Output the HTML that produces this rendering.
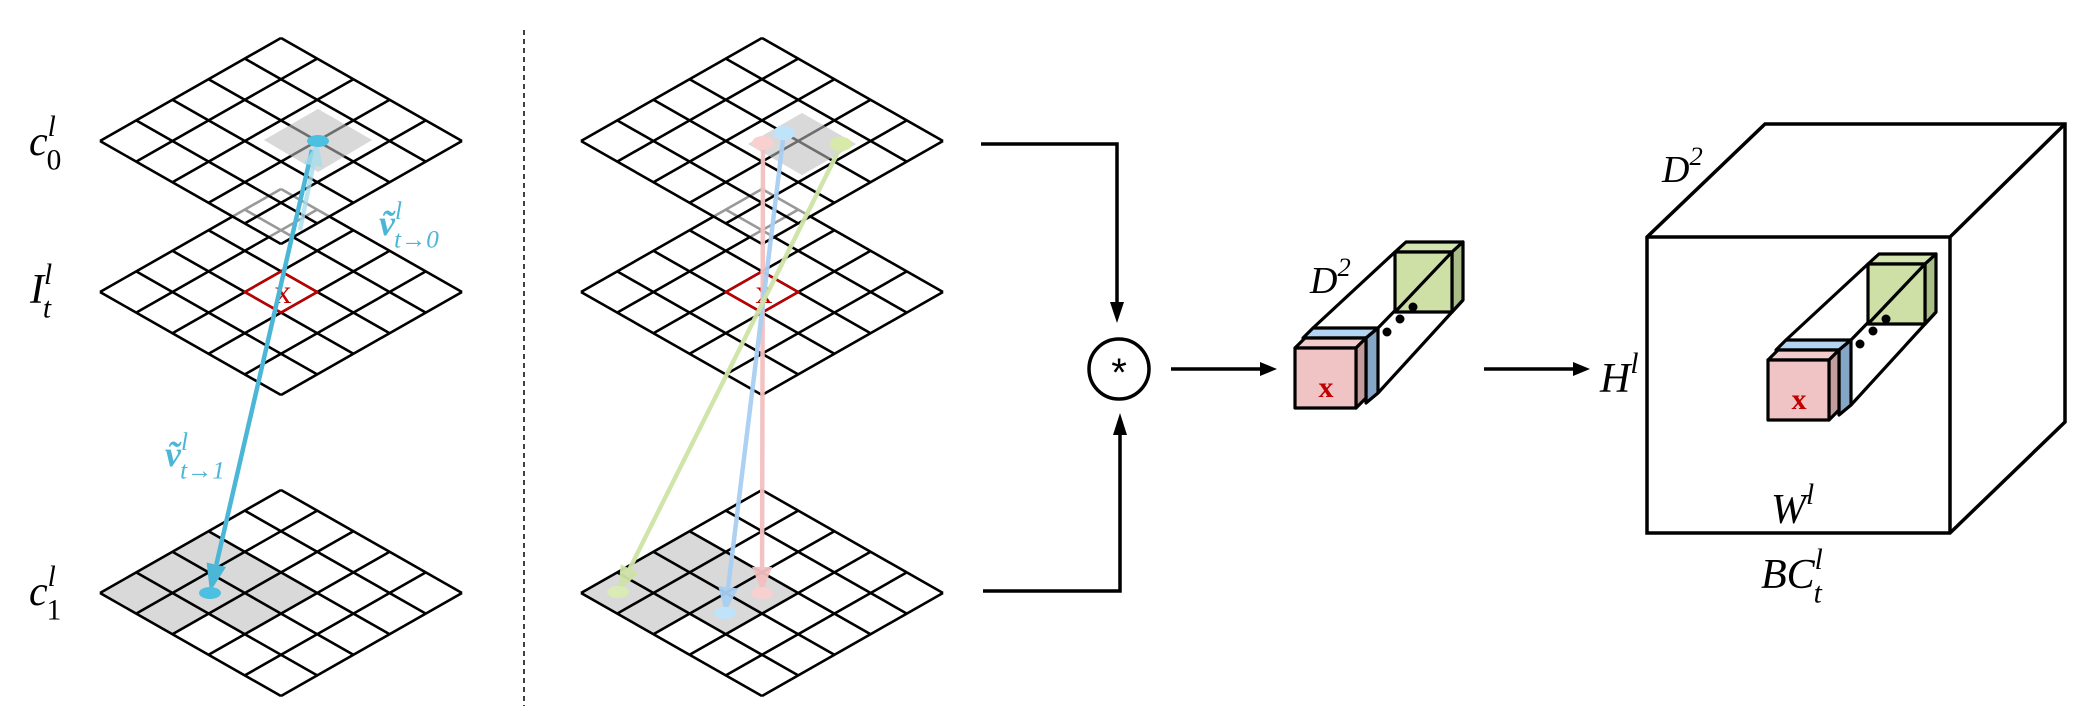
<!DOCTYPE html>
<html><head><meta charset="utf-8"><style>
html,body{margin:0;padding:0;background:#fff}
svg{display:block}
.m{font-family:"Liberation Serif",serif;font-style:italic}
</style></head><body>
<svg id="s" xmlns="http://www.w3.org/2000/svg" width="2091" height="727" viewBox="0 0 2091 727">
<g id="g"></g>
</svg>
<script>
var NS="http://www.w3.org/2000/svg",G=document.getElementById('g');
function el(t,a,txt){var e=document.createElementNS(NS,t);for(var k in a)e.setAttribute(k,a[k]);if(txt!==undefined)e.textContent=txt;G.appendChild(e);return e;}
var CW=36.2,CH=20.6;
function P(L,u,v){return [L[0]+(u+v)*CW,L[1]+(v-u)*CH];}
function pts(a){return a.map(function(p){return p[0].toFixed(1)+','+p[1].toFixed(1)}).join(' ');}
function grid(cx,cy,fill,op){
 var L=[cx-5*CW,cy];
 var c=[P(L,0,0),P(L,5,0),P(L,5,5),P(L,0,5)];
 el('polygon',{points:pts(c),fill:fill||'#fff','fill-opacity':op==null?1:op,stroke:'none'});
 return L;
}
function gridLines(L){
 var d='';
 for(var i=0;i<=5;i++){var a=P(L,0,i),b=P(L,5,i);d+='M'+a+'L'+b;a=P(L,i,0);b=P(L,i,5);d+='M'+a+'L'+b;}
 el('path',{d:d,stroke:'#000','stroke-width':2.6,fill:'none','stroke-linejoin':'miter'});
}
function shadeBottom(L){
 var p=[P(L,0,0),P(L,3,0),P(L,3,3),P(L,1,3),P(L,1,2),P(L,0,2)];
 el('polygon',{points:pts(p),fill:'#d9d9d9'});
}
function arrow(x1,y1,x2,y2,col,w,hl,hw,op){
 var dx=x2-x1,dy=y2-y1,l=Math.hypot(dx,dy),ux=dx/l,uy=dy/l;
 var bx=x2-ux*hl,by=y2-uy*hl;
 el('line',{x1:x1,y1:y1,x2:bx,y2:by,stroke:col,'stroke-width':w,'stroke-opacity':op||1});
 el('polygon',{points:pts([[x2,y2],[bx-uy*hw,by+ux*hw],[bx+uy*hw,by-ux*hw]]),fill:col,'fill-opacity':op||1});
}
el('line',{x1:524,y1:30,x2:524,y2:706,stroke:'#000','stroke-width':1.5,'stroke-dasharray':'5,4'});

function base(cx){
 var Lb=grid(cx,593);shadeBottom(Lb);gridLines(Lb);
 var Lm=grid(cx,292);gridLines(Lm);
 var r=[P(Lm,2,2),P(Lm,3,2),P(Lm,3,3),P(Lm,2,3)];
 el('polygon',{points:pts(r),fill:'none',stroke:'#c00000','stroke-width':2.4});
 el('text',{x:cx+2,y:303,'font-family':'Liberation Serif, serif','font-size':34,fill:'#c00000','text-anchor':'middle'},'x');
 grid(cx,141,'#fff',0.6);
}
// LEFT SET
(function(){
 var cx=281; base(cx);
 el('polygon',{points:'318,109 372,140 318,172 264,140',fill:'#d9d9d9'});
 gridLines([cx-5*CW,141]);
 el('polygon',{points:'318,109 372,140 318,172 264,140',fill:'#d9d9d9','fill-opacity':0.5});
 arrow(312,150,210,592,'#4cb6d6',4.5,28,10);
 arrow(300,230,318,142,'#a9dcec',4.5,24,10,0.8);
 el('ellipse',{cx:318,cy:141,rx:11,ry:6,fill:'#4cc0e0'});
 el('ellipse',{cx:210,cy:593,rx:11,ry:6,fill:'#4cc0e0'});
})();
// RIGHT SET
(function(){
 var cx=762; base(cx);
 el('polygon',{points:'802,113 856,144 802,175 748,144',fill:'#d9d9d9'});
 gridLines([cx-5*CW,141]);
 el('polygon',{points:'802,113 856,144 802,175 748,144',fill:'#d9d9d9','fill-opacity':0.5});
 arrow(763,150,762,593,'#f2c0c0',4.5,26,10,0.95);
 arrow(783,140,725,613,'#a8cff2',4.5,26,10,0.95);
 arrow(838,152,618,592,'#cfe3a6',4.5,26,10,0.95);
 el('ellipse',{cx:763,cy:143,rx:11,ry:7,fill:'#f8d0d0'});
 el('ellipse',{cx:784,cy:133,rx:11,ry:7,fill:'#bfe4fa'});
 el('ellipse',{cx:841,cy:144,rx:11,ry:7,fill:'#d8eaa8'});
 el('ellipse',{cx:618,cy:592,rx:11,ry:6,fill:'#dbebb5'});
 el('ellipse',{cx:725,cy:613,rx:11,ry:6,fill:'#bfe4fa'});
 el('ellipse',{cx:762,cy:593,rx:11,ry:6,fill:'#f8d0d0'});
})();

function lab(x,y,base,sub,sup,size,col,bold,subUp){
 var t=el('text',{x:x,y:y,'class':'m','font-size':size,fill:col||'#000'});
 if(bold)t.setAttribute('font-weight','bold');
 var s1=document.createElementNS(NS,'tspan');s1.textContent=base;t.appendChild(s1);
 if(sup){var s2=document.createElementNS(NS,'tspan');s2.setAttribute('dy',-size*0.45);s2.setAttribute('font-size',size*0.7);s2.setAttribute('font-weight','normal');s2.textContent=sup;t.appendChild(s2);}
 if(sub){var s3=document.createElementNS(NS,'tspan');s3.setAttribute('dy',sup?size*0.8:size*0.3);s3.setAttribute('dx',sup?-size*0.22:0);s3.setAttribute('font-size',size*0.7);s3.setAttribute('font-weight','normal');s3.setAttribute('font-style',subUp?'normal':'italic');s3.textContent=sub;t.appendChild(s3);}
}
lab(29,155,'c','0','l',42,null,false,true);
lab(30,303,'I','t','l',42);
lab(29,605,'c','1','l',42,null,false,true);
lab(379,235,'ṽ','t→0','l',36,'#4cb6d6',true);
lab(165,466,'ṽ','t→1','l',36,'#4cb6d6',true);

el('path',{d:'M981,144 L1117,144 L1117,305',stroke:'#000','stroke-width':3.5,fill:'none'});
el('polygon',{points:'1110,302 1124,302 1117,323',fill:'#000'});
el('path',{d:'M983,591 L1120,591 L1120,432',stroke:'#000','stroke-width':3.5,fill:'none'});
el('polygon',{points:'1113,435 1127,435 1120,413',fill:'#000'});
el('circle',{cx:1119,cy:369,r:30,fill:'#fff',stroke:'#000','stroke-width':3.5});
el('text',{x:1119,y:386,'font-family':'Liberation Sans, sans-serif','font-size':40,'text-anchor':'middle'},'*');
el('line',{x1:1171,y1:369,x2:1262,y2:369,stroke:'#000','stroke-width':3.5});
el('polygon',{points:'1260,362 1277,369 1260,376',fill:'#000'});
el('line',{x1:1484,y1:369,x2:1575,y2:369,stroke:'#000','stroke-width':3.5});
el('polygon',{points:'1573,362 1590,369 1573,376',fill:'#000'});

function column(ox,oy){
 var sw=3.2;
 function T(p){return [p[0]+ox,p[1]+oy];}
 function poly(a,f){el('polygon',{points:pts(a.map(T)),fill:f,stroke:'#000','stroke-width':sw,'stroke-linejoin':'round'});}
 function ln(a,b){var A=T(a),B=T(b);el('line',{x1:A[0],y1:A[1],x2:B[0],y2:B[1],stroke:'#000','stroke-width':sw});}
 ln([1313,328],[1395,252]);
 ln([1378,328],[1452,252]);
 ln([1378,393],[1463,300]);
 poly([[1395,252],[1406,242],[1463,242],[1452,252]],'#d4e4b0');
 poly([[1452,252],[1463,242],[1463,300],[1452,312]],'#a9bd86');
 poly([[1395,252],[1452,252],[1452,312],[1395,312]],'#cfe0a6');
 ln([1395,312],[1452,252]);
 [[1387,332],[1400,319],[1413,307]].forEach(function(d){var p=T(d);el('circle',{cx:p[0],cy:p[1],r:4.5,fill:'#000'});});
 poly([[1303,338],[1313,328],[1378,328],[1366,338]],'#b3d4f2');
 poly([[1366,338],[1378,328],[1378,393],[1366,403]],'#85a6c4');
 poly([[1295,348],[1305,338],[1366,338],[1356,348]],'#f2cccc');
 poly([[1356,348],[1366,338],[1366,398],[1356,408]],'#c49c9c');
 poly([[1295,348],[1356,348],[1356,408],[1295,408]],'#f0c4c4');
 var c=T([1326,397]);
 el('text',{x:c[0],y:c[1],'font-family':'Liberation Serif, serif','font-weight':'bold','font-size':30,fill:'#c00000','text-anchor':'middle'},'x');
}
column(0,0);
lab(1310,293,'D','','2',38);

el('polygon',{points:'1647,237 1765,124 2065,124 2065,422 1950,533 1647,533',fill:'#fff',stroke:'#000','stroke-width':3.5,'stroke-linejoin':'miter'});
el('path',{d:'M1647,237 L1950,237 L1950,533 M1950,237 L2065,124',stroke:'#000','stroke-width':3.5,fill:'none'});
column(473,12);
lab(1662,182,'D','','2',38);
lab(1600,392,'H','','l',42);
lab(1771,523,'W','','l',42);
lab(1761,588,'BC','t','l',42);
</script>
</body></html>
